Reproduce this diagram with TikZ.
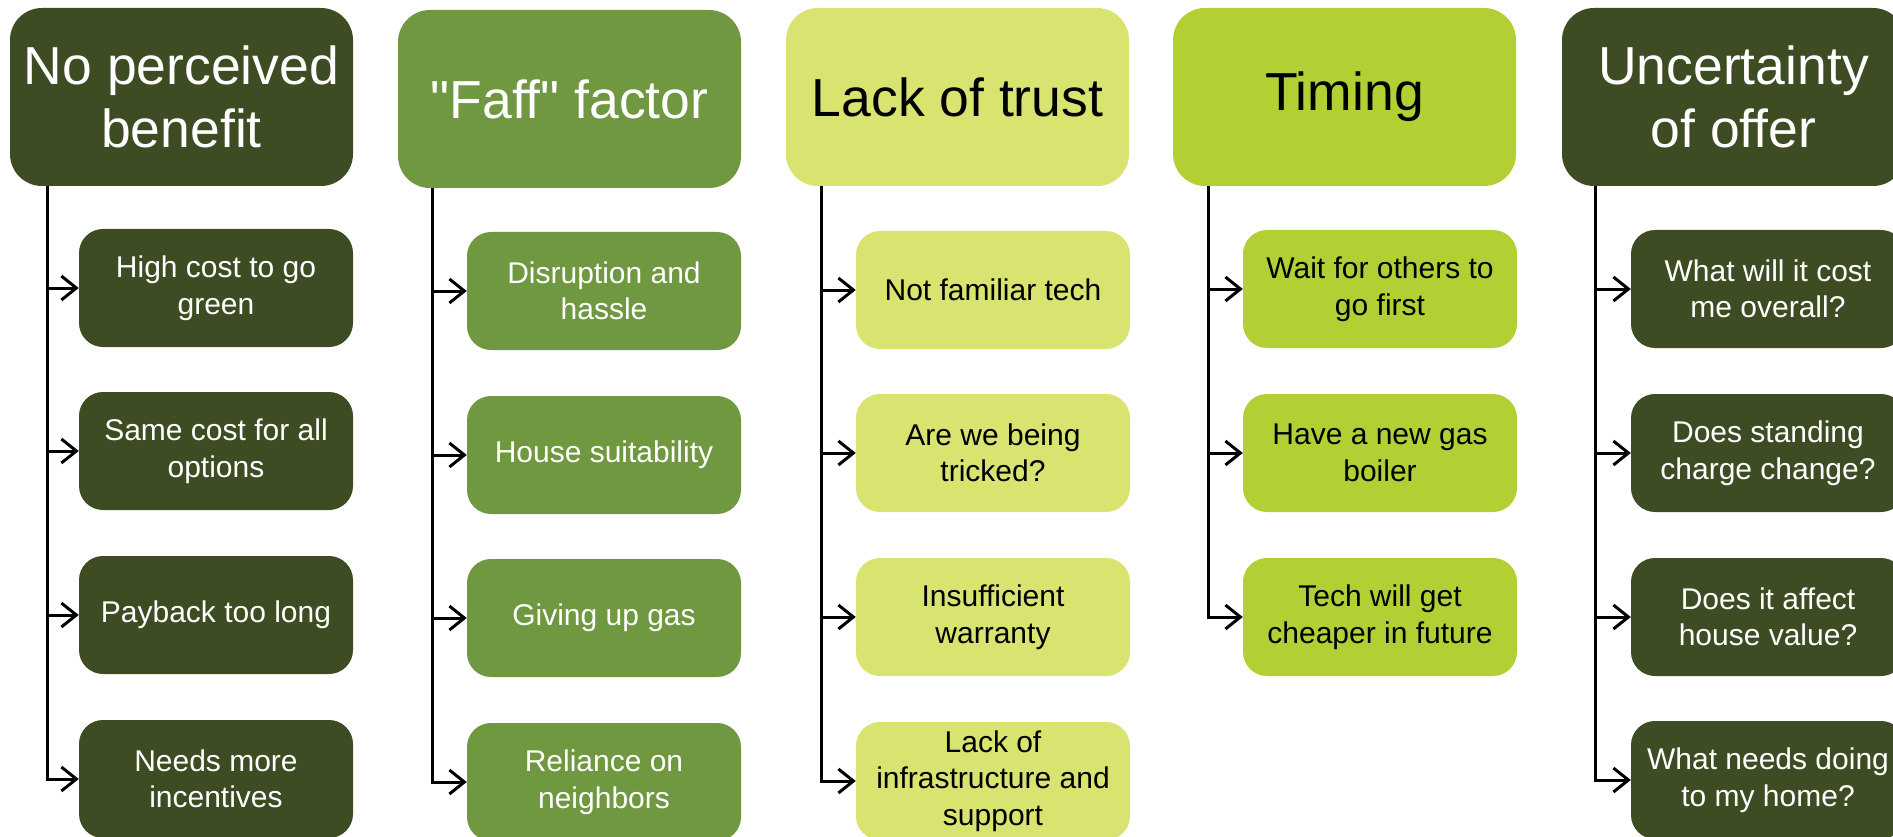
\documentclass[tikz,border=0pt]{standalone}
\usepackage{fontspec}
\setmainfont{Liberation Sans}
\newfontfamily\plainsans{Liberation Sans}
\usepackage{tikz}
\usetikzlibrary{arrows.meta,calc}
\definecolor{darkolive}{RGB}{61,76,34}
\definecolor{midolive}{RGB}{111,152,64}
\definecolor{paleolive}{RGB}{216,227,112}
\definecolor{limeolive}{RGB}{178,208,52}
\tikzset{
    head/.style={rounded corners=32pt, minimum width=343pt, minimum height=178pt,
        inner sep=0pt, align=center, font=\fontsize{53.5}{63.5}\selectfont},
    item/.style={rounded corners=24pt, minimum width=274pt, minimum height=118pt,
        inner sep=0pt, align=center, font=\fontsize{30}{36.5}\selectfont},
    link/.style={line width=3pt, -{Straight Barb[length=15pt,width=24pt]}},
}

\begin{document}
\begin{tikzpicture}[x=1pt,y=1pt,yscale=-1,xscale=1]
		\fill[white] (0,0) rectangle (1893,837);
		\useasboundingbox (0,0) rectangle (1893,837);
		
		% Text Node
		\node [head, fill=darkolive, text=white] (h1) at (181.5,97) {No perceived\\benefit};
		\node [item, fill=darkolive, text=white] (c11) at (216,288) {High cost to go\\green};
		\node [item, fill=darkolive, text=white] (c12) at (216,451) {Same cost for all\\options};
		\node [item, fill=darkolive, text=white] (c13) at (216,615) {Payback too long};
		\node [item, fill=darkolive, text=white] (c14) at (216,779) {Needs more\\incentives};
		% Text Node
		\node [head, fill=midolive, text=white] (h2) at (569.5,99) {\plainsans "Faff" factor};
		\node [item, fill=midolive, text=white] (c21) at (604,291) {Disruption and\\hassle};
		\node [item, fill=midolive, text=white] (c22) at (604,455) {House suitability};
		\node [item, fill=midolive, text=white] (c23) at (604,618) {Giving up gas};
		\node [item, fill=midolive, text=white] (c24) at (604,782) {Reliance on\\neighbors};
		% Text Node
		\node [head, fill=paleolive, text=black] (h3) at (957.5,97) {Lack of trust};
		\node [item, fill=paleolive, text=black] (c31) at (993,290) {Not familiar tech};
		\node [item, fill=paleolive, text=black] (c32) at (993,453) {Are we being\\tricked?};
		\node [item, fill=paleolive, text=black] (c33) at (993,617) {Insufficient\\warranty};
		\node [item, fill=paleolive, text=black] (c34) at (993,781) {Lack of\\infrastructure and\\support};
		% Text Node
		\node [head, fill=limeolive, text=black] (h4) at (1344.5,97) {Timing};
		\node [item, fill=limeolive, text=black] (c41) at (1380,289) {Wait for others to\\go first};
		\node [item, fill=limeolive, text=black] (c42) at (1380,453) {Have a new gas\\boiler};
		\node [item, fill=limeolive, text=black] (c43) at (1380,617) {Tech will get\\cheaper in future};
		% Text Node
		\node [head, fill=darkolive, text=white] (h5) at (1733.5,97) {Uncertainty\\of offer};
		\node [item, fill=darkolive, text=white] (c51) at (1768,289) {What will it cost\\me overall?};
		\node [item, fill=darkolive, text=white] (c52) at (1768,453) {Does standing\\charge change?};
		\node [item, fill=darkolive, text=white] (c53) at (1768,617) {Does it affect\\house value?};
		\node [item, fill=darkolive, text=white] (c54) at (1768,780) {What needs doing\\to my home?};
		
		% Connection
		\coordinate (t1) at ([xshift=38pt]h1.south west);
		\draw [link] (t1) |- (c14.west);
		\draw [link] (t1 |- c11.west) -- (c11.west);
		\draw [link] (t1 |- c12.west) -- (c12.west);
		\draw [link] (t1 |- c13.west) -- (c13.west);
		% Connection
		\coordinate (t2) at ([xshift=35pt]h2.south west);
		\draw [link] (t2) |- (c24.west);
		\draw [link] (t2 |- c21.west) -- (c21.west);
		\draw [link] (t2 |- c22.west) -- (c22.west);
		\draw [link] (t2 |- c23.west) -- (c23.west);
		% Connection
		\coordinate (t3) at ([xshift=36pt]h3.south west);
		\draw [link] (t3) |- (c34.west);
		\draw [link] (t3 |- c31.west) -- (c31.west);
		\draw [link] (t3 |- c32.west) -- (c32.west);
		\draw [link] (t3 |- c33.west) -- (c33.west);
		% Connection
		\coordinate (t4) at ([xshift=36pt]h4.south west);
		\draw [link] (t4) |- (c43.west);
		\draw [link] (t4 |- c41.west) -- (c41.west);
		\draw [link] (t4 |- c42.west) -- (c42.west);
		% Connection
		\coordinate (t5) at ([xshift=34pt]h5.south west);
		\draw [link] (t5) |- (c54.west);
		\draw [link] (t5 |- c51.west) -- (c51.west);
		\draw [link] (t5 |- c52.west) -- (c52.west);
		\draw [link] (t5 |- c53.west) -- (c53.west);
		
		\end{tikzpicture}
\end{document}
